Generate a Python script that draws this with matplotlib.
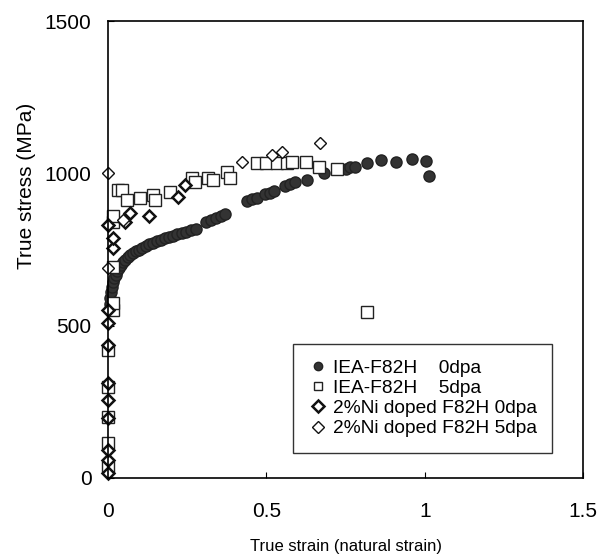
import matplotlib
matplotlib.use("Agg")
import matplotlib.pyplot as plt

plt.rcParams['font.family'] = ['Liberation Sans', 'DejaVu Sans']

# IEA-F82H 0dpa (filled circles)
iea0_x = [0.005, 0.007, 0.010, 0.013, 0.016, 0.020, 0.024, 0.029, 0.034, 0.040,
          0.047, 0.054, 0.062, 0.070, 0.079, 0.088, 0.098, 0.108, 0.119, 0.130,
          0.142, 0.154, 0.166, 0.179, 0.192, 0.205, 0.219, 0.233, 0.247, 0.262,
          0.277, 0.31, 0.325, 0.34, 0.355, 0.37, 0.44, 0.455, 0.47, 0.495,
          0.51, 0.525, 0.56, 0.575, 0.59, 0.628, 0.68, 0.75, 0.764, 0.778,
          0.818, 0.86, 0.909, 0.96, 1.005, 1.013]
iea0_y = [570, 590, 610, 628, 643, 657, 668, 680, 690, 699,
          708, 716, 724, 731, 738, 744, 750, 756, 762, 767,
          772, 777, 782, 787, 791, 796, 800, 805, 809, 814,
          819, 842, 848, 855, 861, 868, 910, 915, 920, 932,
          937, 941, 960, 965, 971, 978, 1001, 1015, 1020, 1022,
          1034, 1044, 1037, 1047, 1040, 991]

# IEA-F82H 5dpa (open squares)
iea5_x = [0.0, 0.0, 0.0, 0.0, 0.0, 0.015, 0.015, 0.015, 0.015, 0.015,
          0.03, 0.044, 0.06, 0.10, 0.142, 0.148, 0.196, 0.265, 0.275, 0.316,
          0.33, 0.376, 0.385, 0.47, 0.50, 0.534, 0.565, 0.58, 0.625, 0.666,
          0.723, 0.818]
iea5_y = [36, 115, 200, 299, 420, 551, 574, 692, 840, 860,
          945, 945, 912, 919, 929, 912, 939, 985, 971, 985,
          978, 1004, 985, 1034, 1034, 1034, 1034, 1037, 1037, 1021,
          1014, 545]

# 2%Ni doped F82H 0dpa (open diamonds, bold)
ni0_x = [0.0, 0.0, 0.0, 0.0, 0.0, 0.0, 0.0, 0.0, 0.0, 0.015,
         0.015, 0.0, 0.054, 0.07, 0.13, 0.22, 0.243]
ni0_y = [16, 59, 92, 197, 256, 312, 436, 509, 551, 755,
         788, 830, 840, 870, 860, 922, 962]

# 2%Ni doped F82H 5dpa (open diamonds)
ni5_x = [0.0, 0.0, 0.047, 0.423, 0.518, 0.55, 0.67]
ni5_y = [689, 1000, 847, 1037, 1060, 1070, 1099]

fig = plt.figure(figsize=(6.14, 5.57), dpi=100)
ax = fig.add_axes([0.176, 0.142, 0.774, 0.820])

ax.plot(iea0_x, iea0_y, 'o', color='#333333', mec='#222222', ms=8,
        label='IEA-F82H    0dpa', clip_on=False)
ax.plot(iea5_x, iea5_y, 's', mfc='white', mec='#222222', mew=1.0, ms=9,
        label='IEA-F82H    5dpa', clip_on=False)
ax.plot(ni0_x, ni0_y, 'D', mfc='white', mec='#111111', mew=1.8, ms=6.5,
        label='2%Ni doped F82H 0dpa', clip_on=False)
ax.plot(ni5_x, ni5_y, 'D', mfc='white', mec='#111111', mew=1.0, ms=6.5,
        label='2%Ni doped F82H 5dpa', clip_on=False)

ax.set_xlim(0, 1.5)
ax.set_ylim(0, 1500)
ax.set_xticks([0, 0.5, 1, 1.5])
ax.set_xticklabels(['0', '0.5', '1', '1.5'])
ax.set_yticks([0, 500, 1000, 1500])
ax.tick_params(direction='in', length=4, labelsize=15)
ax.tick_params(axis='x', pad=17)
ax.tick_params(axis='y', pad=12)
for s in ax.spines.values():
    s.set_linewidth(1.2)

ax.set_xlabel('True strain (natural strain)', fontsize=12, labelpad=13)
ax.set_ylabel('True stress (MPa)', fontsize=15)
ax.yaxis.set_label_coords(-0.152, 0.64)

leg = ax.legend(loc='lower right', bbox_to_anchor=(0.935, 0.055), fontsize=13.8,
                frameon=True, fancybox=False, edgecolor='black',
                handletextpad=0.3, borderpad=0.8, labelspacing=0.15,
                handlelength=1.0, borderaxespad=0)
leg.get_frame().set_linewidth(1.0)
for h in leg.legend_handles:
    h.set_markersize(6)

fig.savefig('out.png', dpi=100)
